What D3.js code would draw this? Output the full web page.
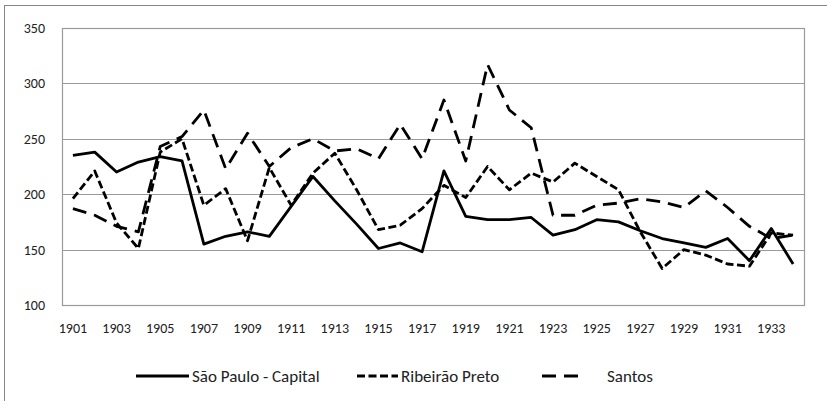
<!DOCTYPE html>
<html>
<head>
<meta charset="utf-8">
<script src="https://cdn.jsdelivr.net/npm/d3@7"></script>
<style>
  body { margin: 0; background: #fff; }
  text { font-family: Carlito, "Open Sans", sans-serif; fill: #222; }
</style>
</head>
<body>
<svg id="chart"></svg>
<script>
const years = d3.range(1901, 1935);
const yTicks = [100, 150, 200, 250, 300, 350];
const xTickYears = d3.range(1901, 1935, 2);

const saoPaulo = [235, 238, 220, 229, 234, 230, 155, 162, 166, 162, 189, 216, 194, 173, 151, 156, 148, 221, 180, 177,
  177, 179, 163, 168, 177, 175, 167, 160, 156, 152, 160, 140, 169, 137];
const ribeiraoPreto = [196, 221, 174, 151, 238, 250, 190, 205, 158, 224, 190, 219, 237, 204, 168, 172, 187, 208, 197, 225,
  204, 219, 211, 228, 216, 204, 166, 133, 150, 145, 137, 135, 165, 163];
const santos = [187, 181, 171, 166, 243, 252, 276, 223, 255, 225, 242, 250, 239, 241, 232, 263, 232, 285, 230, 317,
  276, 260, 181, 181, 190, 192, 196, 193, 188, 203, 188, 171, 160, 163];

const seriesNames = ['São Paulo - Capital', 'Ribeirão Preto', 'Santos'];
const seriesData = [saoPaulo, ribeiraoPreto, santos];
const dashes = [null, '8,3.5', '14,8'];

const width = 827, height = 401;
const plot = { left: 62, right: 804, top: 28, bottom: 305 };
const fontFamily = 'Carlito, "Open Sans", sans-serif';

const svg = d3.select('#chart')
  .attr('width', width)
  .attr('height', height);

// outer chart border
svg.append('rect')
  .attr('x', 4.5).attr('y', 5.5)
  .attr('width', 840).attr('height', 420)
  .attr('fill', 'none')
  .attr('stroke', '#868686');

const x = d3.scaleBand().domain(years).range([plot.left, plot.right]);
const y = d3.scaleLinear().domain([100, 350]).range([plot.bottom, plot.top]);
const cx = d => x(d) + x.bandwidth() / 2;

// gridlines
svg.append('g')
  .selectAll('line')
  .data(yTicks)
  .enter()
  .append('line')
  .attr('x1', plot.left).attr('x2', plot.right)
  .attr('y1', d => Math.round(y(d)) + 0.5)
  .attr('y2', d => Math.round(y(d)) + 0.5)
  .attr('stroke', '#9a9a9a')
  .attr('stroke-width', 1.2);

// plot frame
svg.append('rect')
  .attr('x', plot.left + 0.5).attr('y', Math.round(y(350)) + 0.5)
  .attr('width', plot.right - plot.left)
  .attr('height', Math.round(y(100)) - Math.round(y(350)))
  .attr('fill', 'none')
  .attr('stroke', '#9a9a9a')
  .attr('stroke-width', 1.2);

const yAxis = d3.axisLeft(y).tickValues(yTicks).tickSize(0).tickPadding(17);
svg.append('g')
  .attr('transform', 'translate(' + plot.left + ',0)')
  .call(yAxis)
  .call(g => g.select('.domain').remove())
  .selectAll('text')
  .attr('font-size', '14px')
  .style('font-family', fontFamily);

const xAxis = d3.axisBottom(x).tickValues(xTickYears).tickSize(0).tickPadding(18);
svg.append('g')
  .attr('transform', 'translate(0,' + plot.bottom + ')')
  .call(xAxis)
  .call(g => g.select('.domain').remove())
  .selectAll('text')
  .attr('font-size', '14px')
  .style('font-family', fontFamily);

const line = d3.line()
  .x((d, i) => cx(years[i]))
  .y(d => y(d));

// draw Santos first so the solid line sits on top
[2, 1, 0].forEach(k => {
  svg.append('path')
    .datum(seriesData[k])
    .attr('d', line)
    .attr('fill', 'none')
    .attr('stroke', '#000')
    .attr('stroke-width', 2.8)
    .attr('stroke-linejoin', 'round')
    .attr('stroke-dasharray', dashes[k]);
});

// legend
const legendItems = [
  { x1: 136, x2: 189, tx: 192 },
  { x1: 357, x2: 398, tx: 401 },
  { x1: 542, x2: 578, tx: 607 }
];
const legend = svg.append('g').attr('transform', 'translate(0,376)');
legend.selectAll('line')
  .data(seriesNames)
  .enter()
  .append('line')
  .attr('x1', (d, i) => legendItems[i].x1)
  .attr('x2', (d, i) => legendItems[i].x2)
  .attr('y1', 0).attr('y2', 0)
  .attr('stroke', '#000')
  .attr('stroke-width', 2.8)
  .attr('stroke-dasharray', (d, i) => dashes[i]);
legend.selectAll('text')
  .data(seriesNames)
  .enter()
  .append('text')
  .attr('x', (d, i) => legendItems[i].tx)
  .attr('y', 0)
  .attr('dy', '0.35em')
  .attr('font-size', '17px')
  .text(d => d);
</script>
</body>
</html>
